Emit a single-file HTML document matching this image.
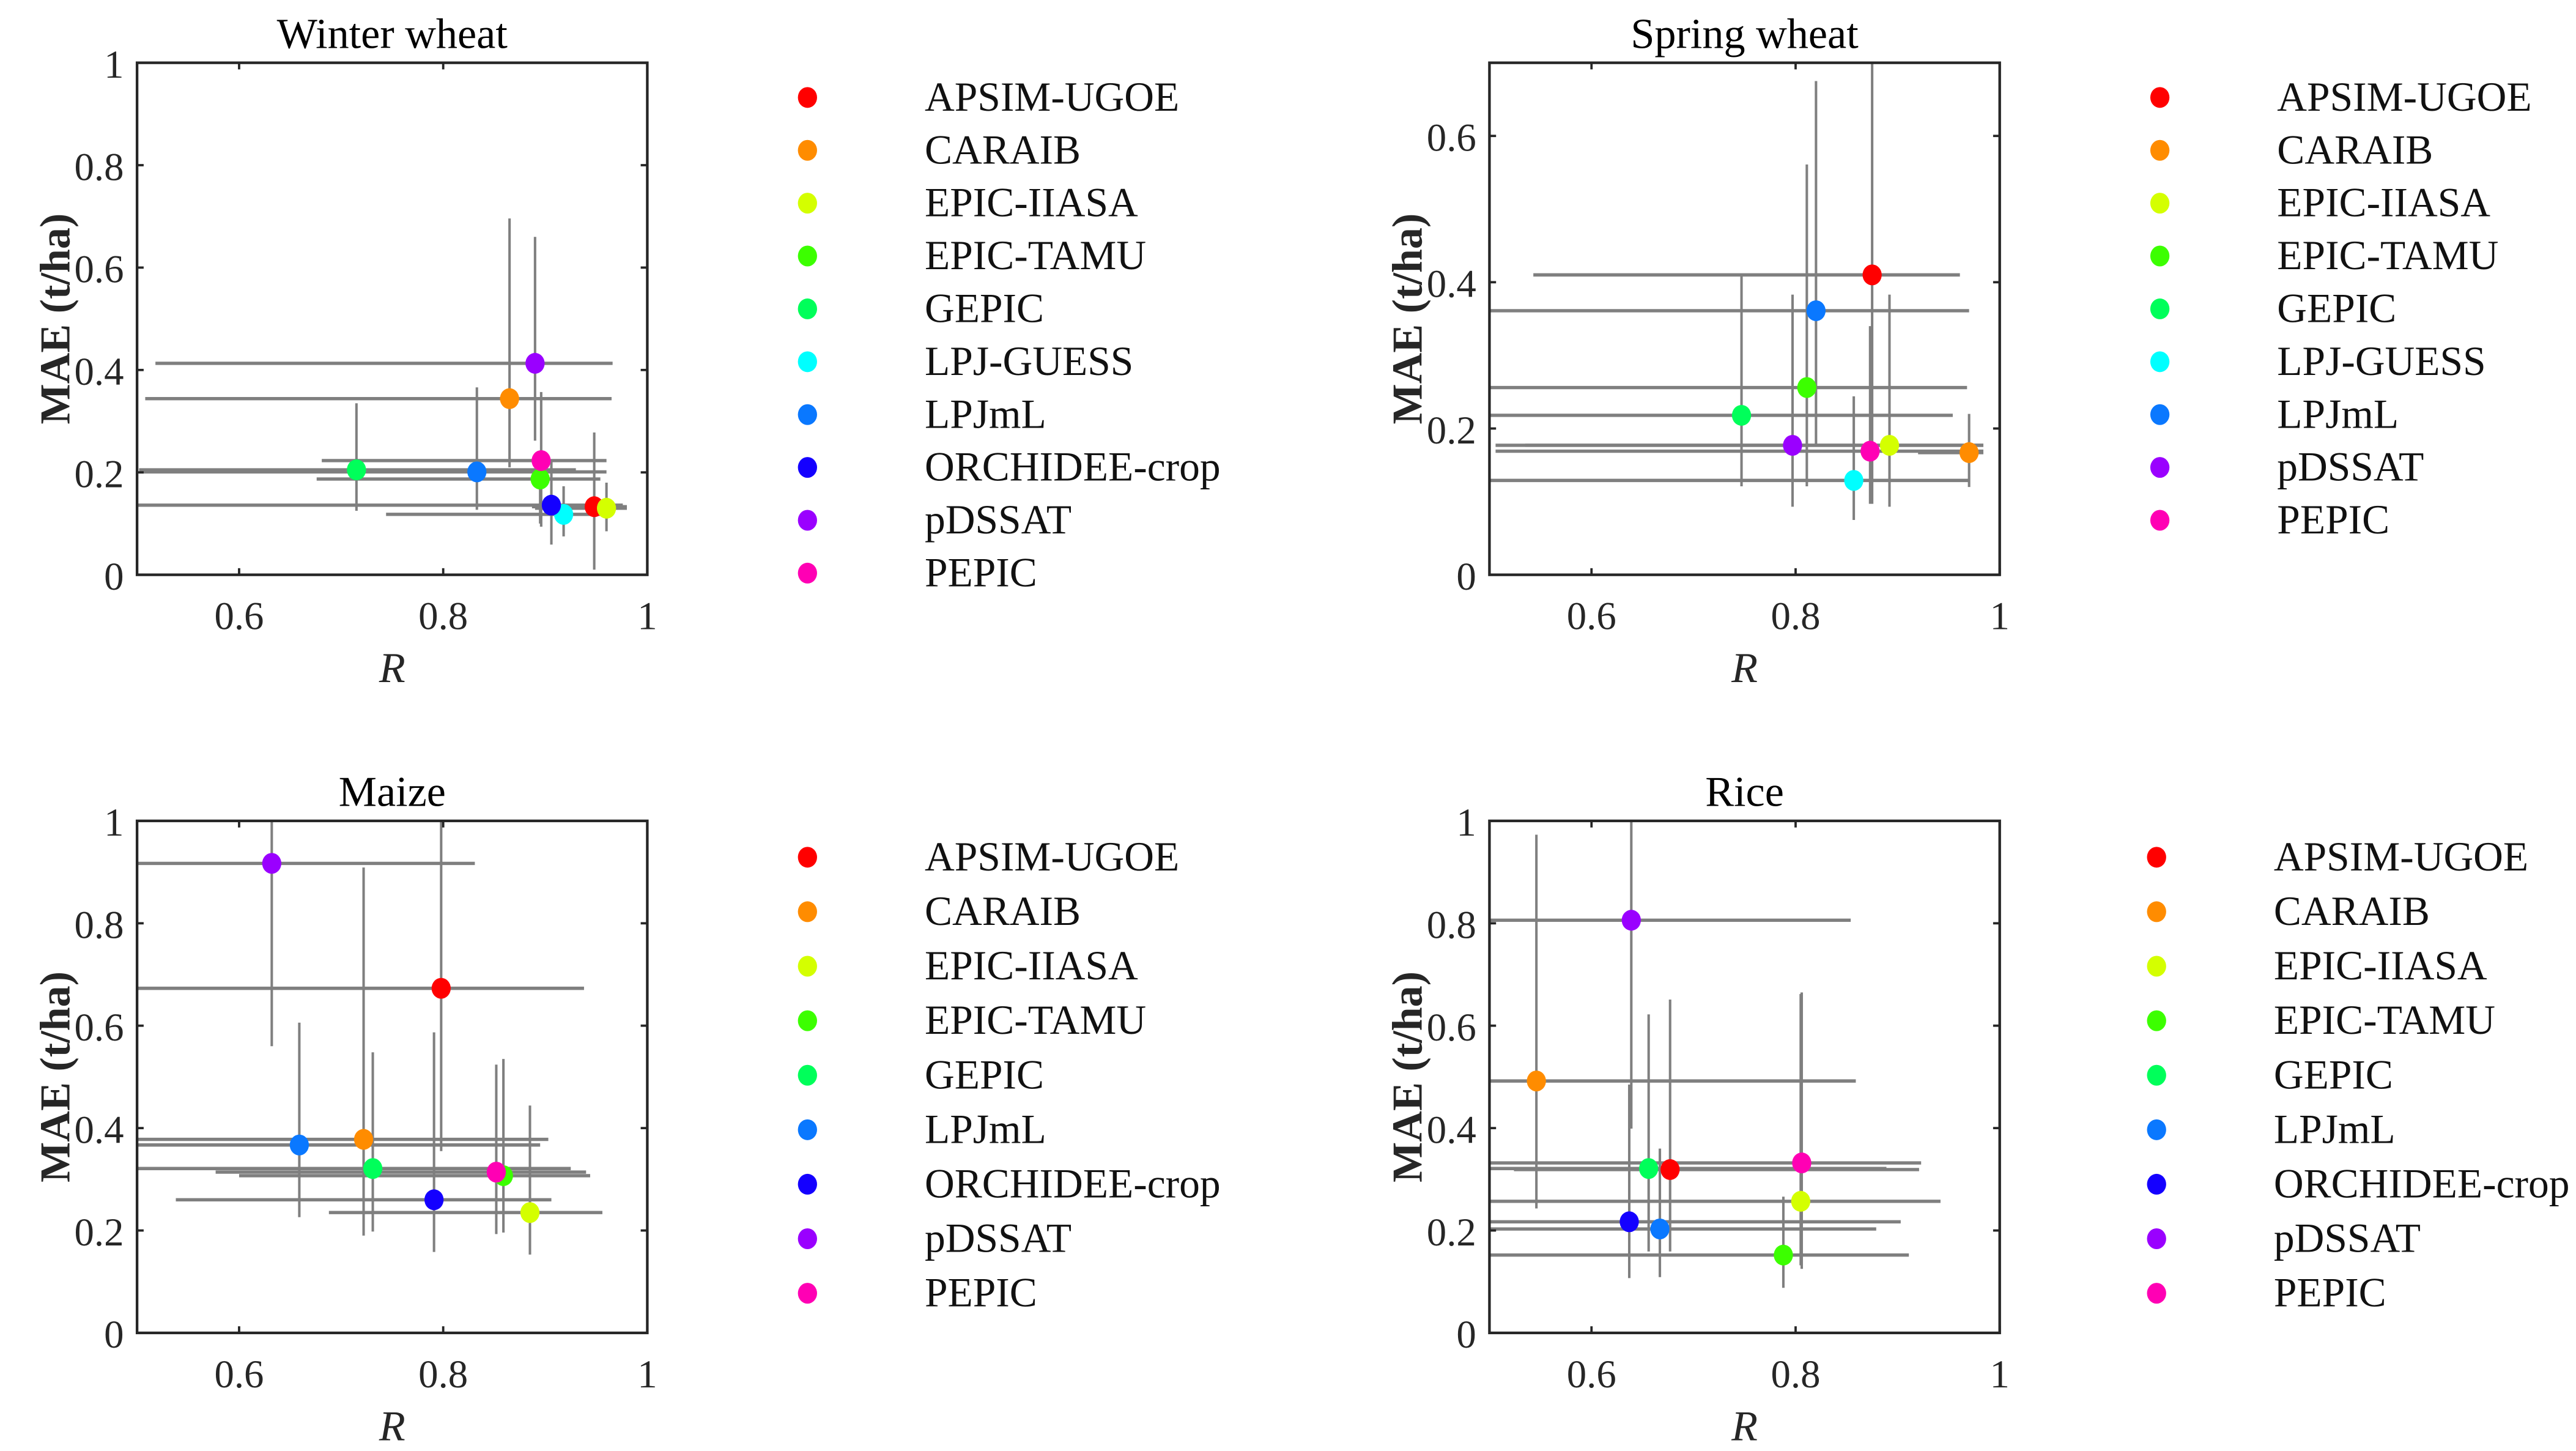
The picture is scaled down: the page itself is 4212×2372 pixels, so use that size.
<!DOCTYPE html>
<html><head><meta charset="utf-8">
<style>
html,body{margin:0;padding:0;background:#fff;}
svg{display:block;font-family:"Liberation Serif",serif;}
svg text{font-family:"Liberation Serif",serif;}
</style></head>
<body>
<svg id="fig" width="4212" height="2372" viewBox="0 0 1560 878.5" xmlns="http://www.w3.org/2000/svg"></svg>
<script>
const models = ["APSIM-UGOE","CARAIB","EPIC-IIASA","EPIC-TAMU","GEPIC","LPJ-GUESS","LPJmL","ORCHIDEE-crop","pDSSAT","PEPIC"];
const modelColors = ["#ff0000","#ff8c00","#d4ff00","#3cff00","#00ff5a","#00ffff","#0a78ff","#1400ff","#9a00ff","#ff00b4"];

// Winter wheat
const wwModels = [0,1,2,3,4,5,6,7,8,9];
const wwR      = [0.948,0.865,0.960,0.895,0.715,0.918,0.833,0.906,0.890,0.896];
const wwRlo    = [0.887,0.508,0.890,0.676,0.502,0.744,0.502,0.500,0.518,0.681];
const wwRhi    = [0.980,0.965,0.980,0.954,0.930,0.964,0.960,0.976,0.966,0.960];
const wwMAE    = [0.133,0.344,0.130,0.187,0.205,0.118,0.201,0.136,0.413,0.223];
const wwMlo    = [0.010,0.210,0.085,0.100,0.125,0.075,0.127,0.059,0.262,0.094];
const wwMhi    = [0.278,0.696,0.180,0.240,0.335,0.173,0.366,0.220,0.660,0.357];

// Spring wheat
const swModels = [0,1,2,3,4,5,6,8,9];
const swR      = [0.875,0.970,0.892,0.811,0.747,0.857,0.820,0.797,0.873];
const swRlo    = [0.543,0.920,0.535,0.500,0.500,0.500,0.500,0.506,0.506];
const swRhi    = [0.961,0.984,0.984,0.968,0.954,0.970,0.970,0.984,0.984];
const swMAE    = [0.410,0.167,0.177,0.256,0.218,0.129,0.361,0.177,0.169];
const swMlo    = [0.097,0.120,0.093,0.121,0.121,0.075,0.177,0.093,0.097];
const swMhi    = [0.750,0.220,0.383,0.561,0.409,0.244,0.675,0.383,0.340];

// Maize
const mzModels = [0,1,2,3,4,6,7,8,9];
const mzR      = [0.798,0.722,0.885,0.859,0.731,0.659,0.791,0.632,0.852];
const mzRlo    = [0.500,0.500,0.688,0.600,0.500,0.500,0.538,0.500,0.577];
const mzRhi    = [0.938,0.903,0.956,0.944,0.925,0.895,0.906,0.831,0.940];
const mzMAE    = [0.673,0.378,0.235,0.307,0.321,0.367,0.260,0.917,0.314];
const mzMlo    = [0.355,0.190,0.153,0.196,0.198,0.226,0.158,0.560,0.193];
const mzMhi    = [1.050,0.909,0.444,0.535,0.548,0.606,0.587,1.050,0.524];

// Rice
const rcModels = [0,1,2,3,4,6,7,8,9];
const rcR      = [0.677,0.546,0.805,0.788,0.656,0.667,0.637,0.639,0.806];
const rcRlo    = [0.524,0.500,0.500,0.500,0.500,0.500,0.500,0.500,0.500];
const rcRhi    = [0.921,0.859,0.942,0.911,0.889,0.879,0.903,0.854,0.923];
const rcMAE    = [0.319,0.492,0.257,0.152,0.321,0.203,0.217,0.806,0.332];
const rcMlo    = [0.159,0.243,0.132,0.088,0.159,0.109,0.107,0.399,0.125];
const rcMhi    = [0.651,0.973,0.662,0.266,0.622,0.360,0.485,1.000,0.665];

const xTicks = [0.6,0.8,1];
const xTickLabels = ["0.6","0.8","1"];
const yTicks1 = [0,0.2,0.4,0.6,0.8,1];
const yTickLabels1 = ["0","0.2","0.4","0.6","0.8","1"];
const yTicks07 = [0,0.2,0.4,0.6];
const yTickLabels07 = ["0","0.2","0.4","0.6"];

const NS="http://www.w3.org/2000/svg";
const svg=document.getElementById('fig');
function mk(tag,attrs,parent){const e=document.createElementNS(NS,tag);for(const k in attrs)e.setAttribute(k,attrs[k]);(parent||svg).appendChild(e);return e;}
const FF='"Liberation Serif", serif';

const panels=[
 {key:"winter-wheat",title:"Winter wheat",L:83,T:38,ymax:1,yt:yTicks1,ytl:yTickLabels1,m:wwModels,R:wwR,Rlo:wwRlo,Rhi:wwRhi,M:wwMAE,Mlo:wwMlo,Mhi:wwMhi,legX:489,legY:59,legDy:32},
 {key:"spring-wheat",title:"Spring wheat",L:902,T:38,ymax:0.7,yt:yTicks07,ytl:yTickLabels07,m:swModels,R:swR,Rlo:swRlo,Rhi:swRhi,M:swMAE,Mlo:swMlo,Mhi:swMhi,legX:1308,legY:59,legDy:32},
 {key:"maize",title:"Maize",L:83,T:497,ymax:1,yt:yTicks1,ytl:yTickLabels1,m:mzModels,R:mzR,Rlo:mzRlo,Rhi:mzRhi,M:mzMAE,Mlo:mzMlo,Mhi:mzMhi,legX:489,legY:519,legDy:33},
 {key:"rice",title:"Rice",L:902,T:497,ymax:1,yt:yTicks1,ytl:yTickLabels1,m:rcModels,R:rcR,Rlo:rcRlo,Rhi:rcRhi,M:rcMAE,Mlo:rcMlo,Mhi:rcMhi,legX:1306,legY:519,legDy:33}
];
const W=309,H=310;
let cid=0;
panels.forEach(p=>{
  const g=mk('g',{});
  
  
  const xs=v=>p.L+(v-0.5)/0.5*W;
  const ys=v=>p.T+H-(v/p.ymax)*H;
  const clipId='clip'+(cid++);
  const cp=mk('clipPath',{id:clipId},g);
  mk('rect',{x:p.L,y:p.T,width:W,height:H},cp);
  const t=mk('text',{x:p.L+W/2,y:p.T-9,'text-anchor':'middle','font-size':26,'font-family':FF},g);
  t.textContent=p.title;
  
  
  const dg=mk('g',{'clip-path':'url(#'+clipId+')'},g);
  
  
  p.m.forEach((mi,i)=>{
    const h=mk('line',{x1:xs(p.Rlo[i]),x2:xs(p.Rhi[i]),y1:ys(p.M[i]),y2:ys(p.M[i]),stroke:'#7f7f7f','stroke-width':2},dg);
    
    
    const v=mk('line',{x1:xs(p.R[i]),x2:xs(p.R[i]),y1:ys(p.Mlo[i]),y2:ys(p.Mhi[i]),stroke:'#7f7f7f','stroke-width':1.5},dg);
    
    
  });
  p.m.forEach((mi,i)=>{
    const c=mk('ellipse',{cx:xs(p.R[i]),cy:ys(p.M[i]),rx:5.8,ry:6.3,fill:modelColors[mi]},dg);
    
    
  });
  const box=mk('rect',{x:p.L,y:p.T,width:W,height:H,fill:'none',stroke:'#262626','stroke-width':1.6},g);
  
  
  xTicks.forEach((v,i)=>{
    const x=xs(v);
    mk('line',{x1:x,x2:x,y1:p.T+H,y2:p.T+H-4,stroke:'#262626','stroke-width':1.4},g);
    mk('line',{x1:x,x2:x,y1:p.T,y2:p.T+4,stroke:'#262626','stroke-width':1.4},g);
    const tl=mk('text',{x:x,y:p.T+H+33,'text-anchor':'middle','font-size':24,fill:'#262626','font-family':FF},g);
    tl.textContent=xTickLabels[i];
    
    
  });
  p.yt.forEach((v,i)=>{
    const y=ys(v);
    mk('line',{x1:p.L,x2:p.L+4,y1:y,y2:y,stroke:'#262626','stroke-width':1.4},g);
    mk('line',{x1:p.L+W,x2:p.L+W-4,y1:y,y2:y,stroke:'#262626','stroke-width':1.4},g);
    const tl=mk('text',{x:p.L-8,y:y+9,'text-anchor':'end','font-size':24,fill:'#262626','font-family':FF},g);
    tl.textContent=p.ytl[i];
    
    
  });
  const xl=mk('text',{x:p.L+W/2,y:p.T+H+65,'text-anchor':'middle','font-size':26,'font-style':'italic',fill:'#262626','font-family':FF},g);
  xl.textContent='R';
  
  
  const cy=p.T+H/2;
  const yl=mk('text',{x:p.L-50,y:cy+9,'text-anchor':'middle','font-size':26,'font-weight':'bold',fill:'#262626','font-family':FF,transform:'rotate(-90 '+(p.L-50)+' '+cy+')'},g);
  yl.textContent='MAE (t/ha)';
  
  
  const lg=mk('g',{},g);
  
  
  p.m.forEach((mi,i)=>{
    const y=p.legY+i*p.legDy;
    const e=mk('g',{},lg);
    
    
    mk('ellipse',{cx:p.legX,cy:y,rx:5.8,ry:6.3,fill:modelColors[mi]},e);
    const tx=mk('text',{x:p.legX+71,y:y+8,'font-size':25,fill:'#111','font-family':FF},e);
    tx.textContent=models[mi];
  });
});
</script>
</body></html>
